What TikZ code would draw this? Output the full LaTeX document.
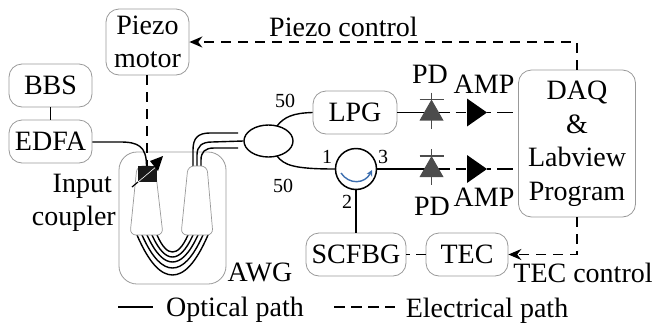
\documentclass[tikz,border=0pt]{standalone}
\usepackage{fontspec}
\setmainfont{Liberation Serif}
\usetikzlibrary{arrows.meta,calc,shapes.geometric}
\definecolor{boxgray}{gray}{0.6}
\definecolor{pdgray}{gray}{0.3}
\definecolor{circblue}{RGB}{60,110,175}
\tikzset{
  big/.style={font=\fontsize{28}{33.5}\selectfont},
  lab/.style={big,anchor=base,inner sep=0pt},
  small/.style={font=\fontsize{20}{24}\selectfont,anchor=base,inner sep=0pt},
  box/.style={big,draw=boxgray,line width=0.8pt,rounded corners=13pt,inner sep=0pt,align=center},
  onebox/.style={box,text height=18pt,text depth=0pt},
  opt/.style={black,line width=1.4pt},
  ele/.style={black,line width=1.4pt,dash pattern=on 10pt off 7pt},
  wg/.style={black,line width=1.4pt},
  taper/.style={draw=boxgray,line width=0.7pt,fill=white,rounded corners=6pt},
  tip/.style={-{Stealth[length=13pt,width=11pt]}},
  dbar/.style={pdgray,line width=1.3pt},
}
\begin{document}
\begin{tikzpicture}[x=1pt,y=-1pt]
\useasboundingbox (0,0) rectangle (654,322);
% AWG frame
\node[box,minimum width=107pt,minimum height=132pt,rounded corners=18pt] (awg) at (172.5,218) {};
% boxes
\node[box,minimum width=83pt,minimum height=66pt] (piezo) at (147.5,42) {Piezo\\motor};
\node[onebox,minimum width=83pt,minimum height=43pt] (bbs) at (50.5,85.5) {BBS};
\node[onebox,minimum width=83pt,minimum height=43pt] (edfa) at (50.5,141.5) {EDFA};
\node[onebox,minimum width=84pt,minimum height=43pt] (lpg) at (355,112.5) {LPG};
\node[onebox,minimum width=100pt,minimum height=43pt] (scfbg) at (356,254.5) {SCFBG};
\node[onebox,minimum width=82pt,minimum height=43pt] (tec) at (467,254.5) {TEC};
\node[box,minimum width=117pt,minimum height=147pt] (daq) at (577,143.5) {DAQ\\\&\\Labview\\Program};
% waveguide array
\foreach \xl/\xr/\yb in {137/208/275,142/203/268,147/198/262,152/193/257,157/188/252}{
  \draw[wg] (\xl,235) .. controls ({\xl+0.35*(172.5-\xl)},{235+0.72*(\yb-235)}) and ({172.5-0.32*(172.5-\xl)},\yb) .. (172.5,\yb)
            .. controls ({172.5+0.32*(\xr-172.5)},\yb) and ({\xr-0.35*(\xr-172.5)},{235+0.72*(\yb-235)}) .. (\xr,235);
}
% output fibres
\coordinate (c) at (268.5,141);
\node[draw=black,line width=1.4pt,ellipse,minimum width=49pt,minimum height=32pt,inner sep=0pt] (coup) at (c) {};
\draw[wg] (193,170) -- (193,150) .. controls (193,138) and (198,133) .. (210,133) -- (238,133);
\draw[wg] (197,170) -- (197,155) .. controls (197,146) and (202,142) .. (212,142) -- (coup.west);
\draw[wg] (201,170) -- (201,160) .. controls (201,152) and (205,148) .. (214,148) -- (238,148);
% tapers
\draw[taper] (137,166) -- (155,166) -- (163,235) -- (130,235) -- cycle;
\draw[taper] (188,166) -- (207,166) -- (213,235) -- (181,235) -- cycle;
% input coupler
\draw[opt] (edfa.east |- 0,142) -- (120,142) .. controls (138,142) and (146.5,146) .. (146.5,166);
\draw[ele] (piezo.south -| 147,0) -- (147,166);
\fill[black!90] (138,166) rectangle (157,182);
\draw[white,line width=0.6pt] (138,182) -- (157,166);
\draw[black,line width=1.2pt] (132,187) -- (138,182);
\draw[black,line width=1.2pt] (155,164) -- (159,160);
\fill[black] (163,156) -- (150,161) -- (158,171) -- cycle;
% BBS - EDFA
\draw[black,line width=1pt] (bbs) -- (edfa);
% coupler branches
\draw[opt] (277,126) .. controls (284,117) and (293,113) .. (lpg.west);
\draw[opt] (277,156) .. controls (284,165) and (293,169) .. (335,169);
% circulator
\node[draw=black,line width=1.5pt,circle,minimum size=41pt,inner sep=0pt] (circ) at (356,169) {};
\draw[circblue,line width=1.4pt,-{Stealth[length=6pt,width=6pt]}] (341,173) .. controls (349,185) and (365,184) .. (372,170);
\draw[opt] (circ.south) -- (scfbg.north -| circ.south);
% upper and lower signal lines
\coordinate (p1) at (431.5,112.5);
\coordinate (p2) at (431.5,169);
\coordinate (a1) at (467,112.5);
\coordinate (a2) at (467,169);
\draw[opt] (lpg.east) -- (p1);
\draw[opt] (circ.east) -- (p2);
\foreach \p/\a in {p1/a1,p2/a2}{
  \draw[opt] ($(\p)+(24,0)$) -- ($(\p)+(34,0)$);
  \draw[opt] (\p) -- ++(18,0);
  \draw[dbar] ($(\p)+(0,-20)$) -- ($(\p)+(0,16)$);
  \draw[dbar] ($(\p)+(-12,-13)$) -- ($(\p)+(12,-13)$);
  \fill[pdgray] ($(\p)+(-12,8)$) -- ($(\p)+(12,8)$) -- ($(\p)+(0,-13)$) -- cycle;
  \fill[black] ($(\a)+(0,-14)$) -- ($(\a)+(20,0)$) -- ($(\a)+(0,14)$) -- cycle;
  \draw[opt] ($(\a)+(20,0)$) -- ($(\a)+(24,0)$);
  \draw[opt] ($(\a)+(30,0)$) -- ($(\a)+(46,0)$);
}
% electrical control
\draw[ele,tip] (daq.north) |- (piezo.east |- 0,42);
\draw[ele,tip] (daq.south) |- (tec.east);
\draw[ele,dash pattern=on 10pt off 6pt] (tec.west) -- (scfbg.east);
% labels
\node[lab] (tpc) at (343.5,36) {Piezo control};
\node[lab,anchor=base east] (tin) at (112,192) {Input};
\node[lab,anchor=base east] (tcp) at (116,225) {coupler};
\node[lab] (tawg) at (260,281) {AWG};
\node[lab] (tpd1) at (430,83) {PD};
\node[lab] (tamp1) at (484,93) {AMP};
\node[lab] (tpd2) at (432,215) {PD};
\node[lab] (tamp2) at (484,206) {AMP};
\node[lab] (ttc) at (583,282) {TEC control};
\node[small] (n50a) at (285,107) {50};
\node[small] (n50b) at (283,192) {50};
\node[small] (n1) at (327,163) {1};
\node[small] (n3) at (383,163) {3};
\node[small] (n2) at (347,208) {2};
% legend
\coordinate (la) at (118,307);
\coordinate (lb) at (153,307);
\coordinate (lc) at (334,307);
\coordinate (ld) at (395,307);
\draw[opt] (la) -- (lb);
\draw[black,line width=1.4pt,dash pattern=on 11pt off 6pt] (lc) -- (ld);
\node[lab] (topt) at (235,316) {Optical path};
\node[lab] (tele) at (487,317) {Electrical path};
\end{tikzpicture}
\end{document}
